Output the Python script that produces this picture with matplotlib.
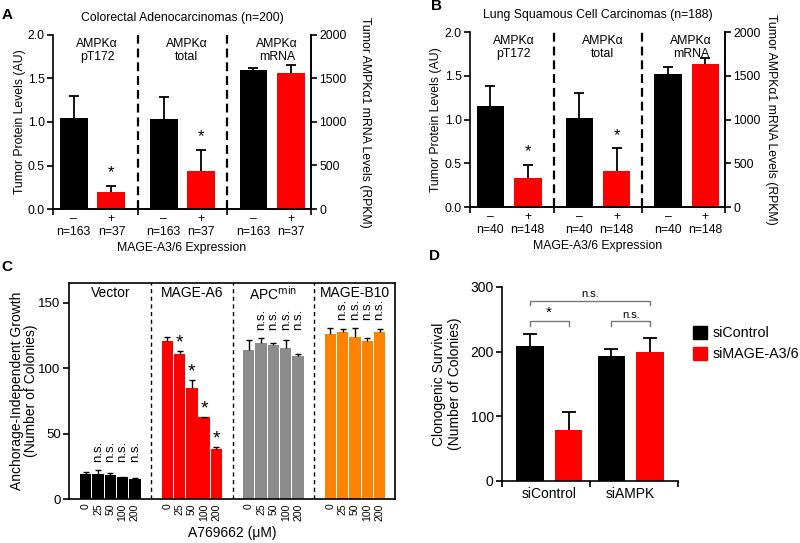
import matplotlib.pyplot as plt
import matplotlib.patches as mpatches
import numpy as np

plt.rcParams['font.family'] = ['Liberation Sans', 'DejaVu Sans']

# Panel A: colorrectal (proteina AU, mRNA RPKM en el ultimo grupo)
grupos_ab = ['AMPKα\npT172', 'AMPKα\ntotal', 'AMPKα\nmRNA']
a_neg = [1.05, 1.04, 1600]
a_neg_err = [0.25, 0.25, 25]
a_pos = [0.20, 0.44, 1560]
a_pos_err = [0.07, 0.24, 100]
a_n = ['n=163', 'n=37']

# Panel B: pulmon escamoso
b_neg = [1.16, 1.02, 1520]
b_neg_err = [0.22, 0.28, 80]
b_pos = [0.33, 0.41, 1640]
b_pos_err = [0.15, 0.26, 60]
b_n = ['n=40', 'n=148']

# Panel C: crecimiento independiente de anclaje
dosis = ['0', '25', '50', '100', '200']
grupos_c = ['Vector', 'MAGE-A6', 'APC$^{\\mathrm{min}}$', 'MAGE-B10']
c_vector = [19.0, 19.0, 18.4, 16.6, 15.3]
c_vector_err = [2.0, 3.5, 1.8, 0.4, 0.8]
c_mage_a6 = [120.9, 110.7, 85.1, 62.4, 38.3]
c_mage_a6_err = [3.0, 2.5, 6.0, 0.5, 1.8]
c_apc = [114.0, 118.8, 118.0, 115.5, 109.1]
c_apc_err = [7.4, 4.4, 1.3, 5.6, 1.6]
c_mage_b10 = [125.7, 127.5, 124.0, 120.4, 127.5]
c_mage_b10_err = [5.1, 2.5, 6.3, 2.8, 2.1]
c_signif = ['n.s.', '*', 'n.s.', 'n.s.']

# Panel D: supervivencia clonogenica
grupos_d = ['siControl', 'siAMPK']
d_sicontrol = [208, 193]
d_sicontrol_err = [20, 11]
d_simage = [79, 200]
d_simage_err = [27, 21]

ROJO = '#ff0000'
GRIS = '#8c8c8c'
NARANJA = '#ff8200'
LW = 1.2
FS_AB = 8.8

fig = plt.figure(figsize=(8, 5.43), dpi=100)


def px(x0, y0, x1, y1):
    # rectangulo en pixeles -> fracciones de figura
    return [x0 / 800, 1 - y1 / 543, (x1 - x0) / 800, (y1 - y0) / 543]


def barra_error(ax, x, y, err, ancho_cap, lw):
    # solo la mitad superior de la barra de error, con su tope
    x = np.atleast_1d(x)
    y = np.atleast_1d(y)
    err = np.atleast_1d(err)
    ax.vlines(x, y, y + err, color='black', lw=lw)
    ax.plot(x, y + err, ls='none', marker='_', color='black', markersize=ancho_cap, mew=lw)


def panel_ab(rect, titulo, neg, neg_err, pos, pos_err, n_labels, pad_izq, pad_der):
    ax = fig.add_axes(rect)
    ax2 = ax.twinx()
    x = np.arange(3)
    off, w = 0.21, 0.31
    # proteina en el eje izquierdo
    ax.bar(x[:2] - off, neg[:2], w, color='black')
    ax.bar(x[:2] + off, pos[:2], w, color=ROJO)
    barra_error(ax, x[:2] - off, neg[:2], neg_err[:2], 6.5, 1.3)
    barra_error(ax, x[:2] + off, pos[:2], pos_err[:2], 6.5, 1.3)
    # mRNA en el eje derecho
    ax2.bar(x[2] - off, neg[2], w, color='black')
    ax2.bar(x[2] + off, pos[2], w, color=ROJO)
    barra_error(ax2, x[2] - off, neg[2], neg_err[2], 6.5, 1.3)
    barra_error(ax2, x[2] + off, pos[2], pos_err[2], 6.5, 1.3)
    for i in range(2):
        ax.text(x[i] + off, pos[i] + pos_err[i] + 0.15, '*', ha='center', va='center', fontsize=12)
    for g in (0.5, 1.5):
        ax.axvline(g, color='black', lw=1.6, ls=(0, (4, 2.2)))
    for i, t in enumerate(grupos_ab):
        ax.text(x[i] + 0.05, 1.97, t, ha='center', va='top', fontsize=FS_AB, linespacing=1.15)
    ax.set_xlim(-0.44, 2.43)
    ax.set_ylim(0, 2.0)
    ax2.set_ylim(0, 2000)
    ax.set_yticks([0, 0.5, 1.0, 1.5, 2.0])
    ax.set_yticklabels(['0.0', '0.5', '1.0', '1.5', '2.0'])
    ax2.set_yticks([0, 500, 1000, 1500, 2000])
    pos_x = np.ravel([[g - off, g + off] for g in x])
    etiquetas = ['\u2013\n' + n_labels[0], '+\n' + n_labels[1]] * 3
    ax.set_xticks(pos_x)
    ax.set_xticklabels(etiquetas, fontsize=FS_AB, linespacing=1.1)
    ax.set_xticks([-0.44, 0.5, 1.5, 2.43], minor=True)
    ax.tick_params(axis='x', which='major', length=0, pad=3)
    ax.tick_params(axis='x', which='minor', length=4, width=LW, direction='out')
    for a in (ax, ax2):
        a.tick_params(axis='y', labelsize=FS_AB, length=4, width=LW, pad=2)
        a.spines['top'].set_visible(False)
        for s in a.spines.values():
            s.set_linewidth(LW)
    ax2.spines['left'].set_visible(False)
    ax.set_ylabel('Tumor Protein Levels (AU)', fontsize=FS_AB, labelpad=pad_izq)
    ax2.set_ylabel('Tumor AMPKα1 mRNA Levels (RPKM)', fontsize=FS_AB, rotation=270,
                   va='bottom', labelpad=pad_der)
    ax.set_xlabel('MAGE-A3/6 Expression', fontsize=FS_AB, labelpad=3)
    ax.set_title(titulo, fontsize=FS_AB, pad=10)
    return ax


panel_ab(px(53, 35, 311, 209), 'Colorectal Adenocarcinomas (n=200)',
         a_neg, a_neg_err, a_pos, a_pos_err, a_n, 1, 9)
panel_ab(px(470, 32, 725, 207), 'Lung Squamous Cell Carcinomas (n=188)',
         b_neg, b_neg_err, b_pos, b_pos_err, b_n, 2, 3)

# Panel C
axc = fig.add_axes(px(69, 283, 395, 499))
paso = 6.62
series_c = [(c_vector, c_vector_err, 'black'), (c_mage_a6, c_mage_a6_err, ROJO),
            (c_apc, c_apc_err, GRIS), (c_mage_b10, c_mage_b10_err, NARANJA)]
ticks_c = []
for g, (vals, errs, color) in enumerate(series_c):
    xs = g * paso + np.arange(len(vals))
    ticks_c.extend(xs)
    axc.bar(xs, vals, 0.92, color=color)
    barra_error(axc, xs, vals, errs, 5, 1.0)
    tops = np.array(vals) + np.array(errs)
    if c_signif[g] == '*':
        for xi, t in zip(xs[1:], tops[1:]):
            axc.text(xi, t + 6, '*', ha='center', va='center', fontsize=14)
    else:
        base = tops.max() + 6
        for xi in xs[1:]:
            axc.text(xi, base, c_signif[g], rotation=90, ha='center', va='bottom', fontsize=9.5)
    axc.text(g * paso + 2, 157, grupos_c[g], ha='center', va='center', fontsize=10)
    if g > 0:
        axc.axvline(g * paso - (paso - 4) / 2, color='black', lw=1.0, ls=(0, (3, 2.5)))
axc.set_xlim(-1.35, 3 * paso + 4 + 1.25)
axc.set_ylim(0, 165)
axc.set_yticks([0, 50, 100, 150])
axc.set_xticks(ticks_c)
axc.set_xticklabels(dosis * 4, rotation=90, fontsize=7.5)
axc.tick_params(axis='x', length=0, pad=3)
axc.tick_params(axis='y', labelsize=9.5, length=4, width=LW, pad=2)
for s in axc.spines.values():
    s.set_linewidth(LW)
axc.set_ylabel('Anchorage-Independent Growth\n(Number of Colonies)', fontsize=10,
               labelpad=0, linespacing=1.05)
axc.set_xlabel('A769662 (μM)', fontsize=10, labelpad=4)

# Panel D
axd = fig.add_axes(px(502, 287, 678, 481))
paso_d = 2.1
xd = np.arange(len(grupos_d)) * paso_d
axd.bar(xd, d_sicontrol, 0.71, color='black', label='siControl')
axd.bar(xd + 1, d_simage, 0.71, color=ROJO, label='siMAGE-A3/6')
barra_error(axd, xd, d_sicontrol, d_sicontrol_err, 9.5, 1.3)
barra_error(axd, xd + 1, d_simage, d_simage_err, 9.5, 1.3)


def corchete(x0, x1, y, texto, fs):
    axd.plot([x0, x0, x1, x1], [y - 7, y, y, y - 7], color='#777777', lw=1.0)
    axd.text((x0 + x1) / 2, y + 2, texto, ha='center', va='bottom', fontsize=fs)


corchete(xd[0], xd[0] + 1, 247, '*', 11)
corchete(xd[1], xd[1] + 1, 247, 'n.s.', 8)
corchete(xd[0], xd[1] + 1, 279, 'n.s.', 8)
centro = (xd[0] + xd[1] + 1) / 2
axd.set_xlim(centro - 2.265, centro + 2.265)
axd.set_ylim(0, 300)
axd.set_yticks([0, 100, 200, 300])
axd.set_xticks(xd + 0.5)
axd.set_xticklabels(grupos_d, fontsize=10)
axd.set_xticks([centro - 2.265, centro, centro + 2.265], minor=True)
axd.tick_params(axis='x', which='major', length=0, pad=4)
axd.tick_params(axis='x', which='minor', length=4, width=LW, direction='out')
axd.tick_params(axis='y', labelsize=10, length=4, width=LW, pad=2)
axd.spines['top'].set_visible(False)
axd.spines['right'].set_visible(False)
for s in axd.spines.values():
    s.set_linewidth(LW)
axd.set_ylabel('Clonogenic Survival\n(Number of Colonies)', fontsize=10, labelpad=6)
fig.legend(handles=[mpatches.Patch(color='black', label='siControl'),
                    mpatches.Patch(color=ROJO, label='siMAGE-A3/6')],
           loc='upper left', bbox_to_anchor=(693 / 800, 1 - 326 / 543), frameon=False,
           fontsize=10.3, handlelength=1.0, handleheight=1.0, handletextpad=0.4,
           labelspacing=0.45, borderpad=0, borderaxespad=0)

# Letras de los paneles
for letra, x, y in [('A', 7, 15), ('B', 436, 6), ('C', 7, 267), ('D', 435, 256)]:
    fig.text(x / 800, 1 - y / 543, letra, fontsize=11, fontweight='bold', ha='center', va='center')

fig.savefig('out.png', dpi=100)
